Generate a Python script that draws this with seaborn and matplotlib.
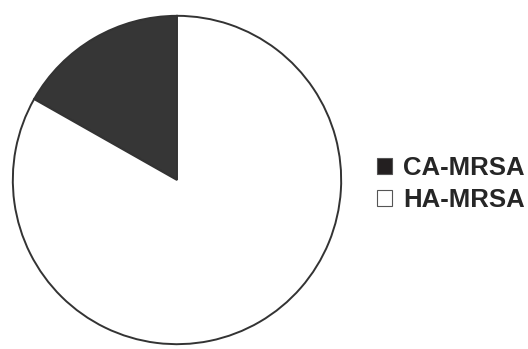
import matplotlib
matplotlib.use("Agg")
import matplotlib.pyplot as plt
from matplotlib.patches import Patch
import seaborn as sns

# share of MRSA isolates
labels = ["CA-MRSA", "HA-MRSA"]
shares = [16.8, 83.2]
slice_colors = ["#363636", "#ffffff"]
legend_colors = ["#231f20", "#ffffff"]

sns.set_style("white")
plt.rcParams["font.family"] = ["Liberation Sans", "DejaVu Sans"]

fig = plt.figure(figsize=(5.28, 3.49), dpi=100)
ax = fig.add_axes([12 / 528, 4 / 349, 330 / 528, 330 / 349])

ax.pie(shares, colors=slice_colors, startangle=90, counterclock=True,
       wedgeprops=dict(edgecolor="#333333", linewidth=1.4))
ax.set_xlim(-1.005, 1.005)
ax.set_ylim(-1.005, 1.005)
ax.set_aspect("equal")
ax.axis("off")

# legend on the right
handles = [Patch(facecolor=c, edgecolor="#555555", linewidth=0.8) for c in legend_colors]
fig.legend(handles, labels, loc="upper left", bbox_to_anchor=(0.714, 0.552),
           frameon=False, prop=dict(size=18.5, weight="bold"),
           handlelength=0.58, handleheight=0.58, handletextpad=0.45,
           labelspacing=0.3, borderpad=0, borderaxespad=0)

fig.savefig("out.png", dpi=100)
